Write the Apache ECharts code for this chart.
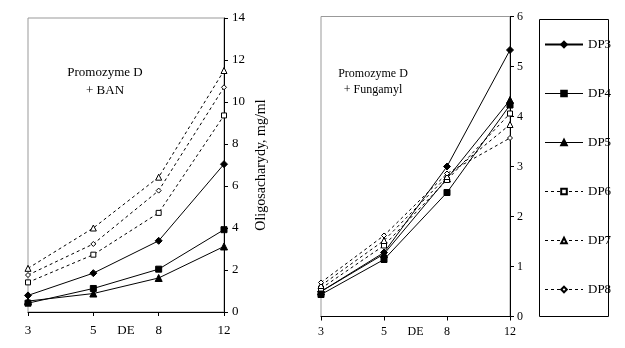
<!DOCTYPE html>
<html>
<head>
<meta charset="utf-8">
<script src="https://cdn.jsdelivr.net/npm/echarts@6/dist/echarts.min.js"></script>
<style>
  html, body { margin: 0; padding: 0; background: #fff; }
  #chart { width: 625px; height: 348px; }
</style>
</head>
<body>
<div id="chart"></div>
<script>
// DE values on the horizontal axis
const categories = ['3', '5', '8', '12'];
const seriesNames = ['DP3', 'DP4', 'DP5', 'DP6', 'DP7', 'DP8'];

// Promozyme D + BAN, oligosaccharides in mg/ml
const dp3Ban = [0.79, 1.85, 3.39, 7.04];
const dp4Ban = [0.42, 1.12, 2.04, 3.92];
const dp5Ban = [0.52, 0.88, 1.62, 3.12];
const dp6Ban = [1.41, 2.73, 4.72, 9.36];
const dp7Ban = [2.08, 4.00, 6.42, 11.50];
const dp8Ban = [1.76, 3.24, 5.78, 10.70];

// Promozyme D + Fungamyl, oligosaccharides in mg/ml
const dp3Fun = [0.50, 1.28, 3.00, 5.33];
const dp4Fun = [0.44, 1.14, 2.48, 4.23];
const dp5Fun = [0.50, 1.25, 2.76, 4.33];
const dp6Fun = [0.56, 1.42, 2.73, 4.06];
const dp7Fun = [0.62, 1.52, 2.80, 3.84];
const dp8Fun = [0.68, 1.62, 2.86, 3.57];

// y-axis ticks
const banTicks = { min: 0, max: 14, interval: 2 };
const funTicks = { min: 0, max: 6, interval: 1 };

const FONT = '"Liberation Serif", "Times New Roman", serif';

const styles = {
  DP3: { symbol: 'diamond', size: 7, fill: '#000', dashed: false },
  DP4: { symbol: 'rect', size: 6, fill: '#000', dashed: false },
  DP5: { symbol: 'triangle', size: 7, fill: '#000', dashed: false },
  DP6: { symbol: 'rect', size: 5, fill: '#fff', dashed: true },
  DP7: { symbol: 'triangle', size: 6, fill: '#fff', dashed: true },
  DP8: { symbol: 'diamond', size: 5, fill: '#fff', dashed: true }
};

function makeSeries(name, data, gridIndex) {
  const s = styles[name];
  return {
    name: name,
    type: 'line',
    xAxisIndex: gridIndex,
    yAxisIndex: gridIndex,
    data: data,
    symbol: s.symbol,
    symbolSize: s.size,
    showAllSymbol: true,
    lineStyle: { color: '#000', width: 1, type: s.dashed ? [3, 3] : 'solid' },
    itemStyle: { color: s.fill, borderColor: '#000', borderWidth: 1 },
    emphasis: { disabled: true },
    animation: false
  };
}

const banData = [dp3Ban, dp4Ban, dp5Ban, dp6Ban, dp7Ban, dp8Ban];
const funData = [dp3Fun, dp4Fun, dp5Fun, dp6Fun, dp7Fun, dp8Fun];

const series = [];
seriesNames.forEach((n, i) => series.push(makeSeries(n, banData[i], 0)));
seriesNames.forEach((n, i) => series.push(makeSeries(n, funData[i], 1)));

function xAxisFor(gridIndex, margin, nameGap, fontSize) {
  return {
    type: 'category',
    gridIndex: gridIndex,
    data: categories,
    boundaryGap: false,
    name: 'DE',
    nameLocation: 'middle',
    nameGap: nameGap,
    nameMoveOverlap: false,
    nameTextStyle: { color: '#000', fontFamily: FONT, fontSize: fontSize },
    axisLine: { show: true, lineStyle: { color: '#000', width: 1 } },
    axisTick: { show: true, inside: false, length: 4, alignWithLabel: true, lineStyle: { color: '#000' } },
    axisLabel: { color: '#000', fontFamily: FONT, fontSize: fontSize, margin: margin },
    splitLine: { show: false }
  };
}

function yAxisFor(gridIndex, ticks, margin, fontSize) {
  return {
    type: 'value',
    gridIndex: gridIndex,
    position: 'right',
    min: ticks.min,
    max: ticks.max,
    interval: ticks.interval,
    nameMoveOverlap: false,
    axisLine: { show: true, lineStyle: { color: '#000', width: 1 } },
    axisTick: { show: true, inside: false, length: 4, lineStyle: { color: '#000' } },
    axisLabel: { color: '#000', fontFamily: FONT, fontSize: fontSize, margin: margin },
    splitLine: { show: false }
  };
}

const option = {
  backgroundColor: '#fff',
  animation: false,
  textStyle: { fontFamily: FONT },
  grid: [
    { left: 28, top: 18, width: 196, height: 294, outerBoundsMode: 'none', containLabel: false,
      show: true, borderColor: '#999', borderWidth: 1, backgroundColor: 'transparent' },
    { left: 321, top: 16.5, width: 189, height: 300, outerBoundsMode: 'none', containLabel: false,
      show: true, borderColor: '#999', borderWidth: 1, backgroundColor: 'transparent' }
  ],
  xAxis: [
    xAxisFor(0, 12, 12.5, 13),
    xAxisFor(1, 9, 9.5, 12)
  ],
  yAxis: [
    Object.assign(yAxisFor(0, banTicks, 8, 13), {
      name: 'Oligosacharydy, mg/ml',
      nameLocation: 'middle',
      nameRotate: 90,
      nameGap: 30,
      nameTextStyle: { color: '#000', fontFamily: FONT, fontSize: 14 }
    }),
    yAxisFor(1, funTicks, 7, 12)
  ],
  legend: {
    orient: 'vertical',
    left: 544,
    top: 38,
    padding: 0,
    itemWidth: 38,
    itemHeight: 7,
    itemGap: 36,
    selectedMode: false,
    lineStyle: { width: 1, color: '#000' },
    textStyle: { color: '#000', fontFamily: FONT, fontSize: 13 },
    data: seriesNames.map(n => n === 'DP3'
      ? { name: n, lineStyle: { width: 2, color: '#000' } }
      : { name: n })
  },
  graphic: [
    { type: 'rect', shape: { x: 539.5, y: 19.5, width: 69, height: 297 }, style: { fill: 'none', stroke: '#000', lineWidth: 1 }, silent: true },
    { type: 'text', x: 105, y: 73, style: { text: 'Promozyme D', fontFamily: FONT, fontSize: 13, fill: '#000', align: 'center', verticalAlign: 'middle' }, silent: true },
    { type: 'text', x: 105, y: 91, style: { text: '+ BAN', fontFamily: FONT, fontSize: 13, fill: '#000', align: 'center', verticalAlign: 'middle' }, silent: true },
    { type: 'text', x: 373, y: 74, style: { text: 'Promozyme D', fontFamily: FONT, fontSize: 12, fill: '#000', align: 'center', verticalAlign: 'middle' }, silent: true },
    { type: 'text', x: 373, y: 90, style: { text: '+ Fungamyl', fontFamily: FONT, fontSize: 12, fill: '#000', align: 'center', verticalAlign: 'middle' }, silent: true }
  ],
  series: series
};

const chart = echarts.init(document.getElementById('chart'), null, { renderer: 'canvas' });
chart.setOption(option);
</script>
</body>
</html>
